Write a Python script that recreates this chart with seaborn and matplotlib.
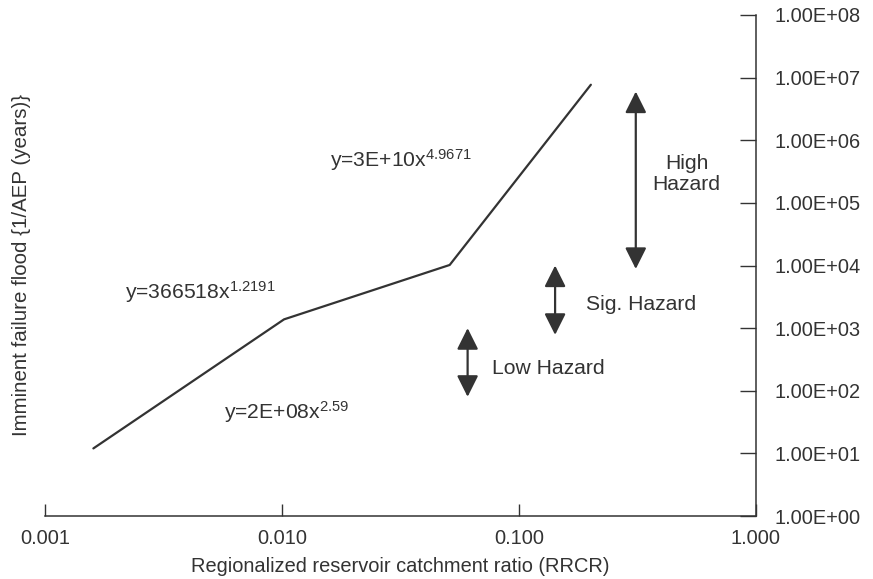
import matplotlib
matplotlib.use("Agg")
import matplotlib.pyplot as plt
import seaborn as sns
import pandas as pd
from matplotlib.ticker import FixedLocator, FixedFormatter, NullLocator

# ---- data ----
rrcr = [0.0016, 0.0102, 0.051, 0.201]
flood = [12.0, 1380.0, 10200.0, 7.7e6]

x_ticks = [0.001, 0.01, 0.1, 1.0]
x_tick_labels = ["0.001", "0.010", "0.100", "1.000"]
y_ticks = [1e0, 1e1, 1e2, 1e3, 1e4, 1e5, 1e6, 1e7, 1e8]
y_tick_labels = ["1.00E+00", "1.00E+01", "1.00E+02", "1.00E+03", "1.00E+04",
                 "1.00E+05", "1.00E+06", "1.00E+07", "1.00E+08"]

# hazard ranges
hazard_x = [0.311, 0.142, 0.0607]
hazard_lo = [8.8e3, 780.0, 80.0]
hazard_hi = [6.0e6, 1.0e4, 1000.0]
hazard_labels = ["High\nHazard", "Sig. Hazard", "Low Hazard"]
hazard_label_x = [0.51, 0.192, 0.0767]
hazard_label_y = [2.9e5, 2350.0, 229.0]
hazard_label_ha = ["center", "left", "left"]

eq_labels = ["y=3E+10x$^{4.9671}$", "y=366518x$^{1.2191}$", "y=2E+08x$^{2.59}$"]
eq_x = [0.01596, 0.00218, 0.00571]
eq_y = [4.87e5, 3830.0, 46.4]

# ---- style ----
sns.set_theme(style="white")
plt.rcParams["font.family"] = ["Liberation Sans", "DejaVu Sans"]
plt.rcParams["mathtext.fontset"] = "custom"
plt.rcParams["mathtext.rm"] = "Liberation Sans"
plt.rcParams["mathtext.it"] = "Liberation Sans"
plt.rcParams["mathtext.bf"] = "Liberation Sans"

ink = "#333333"
fs_tick = 14.4
fs_label = 14.4
fs_note = 15.2

fig = plt.figure(figsize=(8.73, 5.79), dpi=100)
ax = fig.add_axes([45 / 873, 1 - 516 / 579, (756 - 45) / 873, (516 - 15) / 579])

df = pd.DataFrame({"rrcr": rrcr, "flood": flood})
sns.lineplot(data=df, x="rrcr", y="flood", ax=ax, color=ink, linewidth=1.6,
             sort=False, estimator=None)

ax.set_xscale("log")
ax.set_yscale("log")
ax.set_xlim(0.001, 1.0)
ax.set_ylim(1.0, 1e8)

ax.xaxis.set_major_locator(FixedLocator(x_ticks))
ax.xaxis.set_major_formatter(FixedFormatter(x_tick_labels))
ax.xaxis.set_minor_locator(NullLocator())
ax.yaxis.set_major_locator(FixedLocator(y_ticks))
ax.yaxis.set_major_formatter(FixedFormatter(y_tick_labels))
ax.yaxis.set_minor_locator(NullLocator())

ax.yaxis.tick_right()
ax.yaxis.set_label_position("left")

for s in ["left", "top"]:
    ax.spines[s].set_visible(False)
for s in ["right", "bottom"]:
    ax.spines[s].set_visible(True)
    ax.spines[s].set_color(ink)
    ax.spines[s].set_linewidth(1.1)

ax.tick_params(axis="x", direction="in", length=9, width=1.0, color=ink,
               labelsize=fs_tick, labelcolor=ink, pad=9, bottom=True)
ax.tick_params(axis="y", direction="in", length=11.5, width=1.0, color=ink,
               labelsize=fs_tick, labelcolor=ink, pad=13, right=True, left=False)

ax.set_xlabel("Regionalized reservoir catchment ratio (RRCR)", fontsize=fs_label,
              color=ink, labelpad=7)
ax.set_ylabel("Imminent failure flood {1/AEP (years)}", fontsize=14.8,
              color=ink, labelpad=10)

for xv, lo, hi in zip(hazard_x, hazard_lo, hazard_hi):
    ax.annotate("", xy=(xv, hi), xytext=(xv, lo),
                arrowprops=dict(arrowstyle="<|-|>,head_length=1.3,head_width=0.65",
                                mutation_scale=10, color=ink, lw=1.6,
                                shrinkA=0, shrinkB=0))

for lab, lx, ly, ha in zip(hazard_labels, hazard_label_x, hazard_label_y, hazard_label_ha):
    ax.text(lx, ly, lab, ha=ha, va="center", fontsize=fs_note, color=ink,
            multialignment="center", linespacing=1.15)

for lab, lx, ly in zip(eq_labels, eq_x, eq_y):
    ax.text(lx, ly, lab, ha="left", va="center", fontsize=fs_note, color=ink)

fig.savefig("out.png", dpi=100)
